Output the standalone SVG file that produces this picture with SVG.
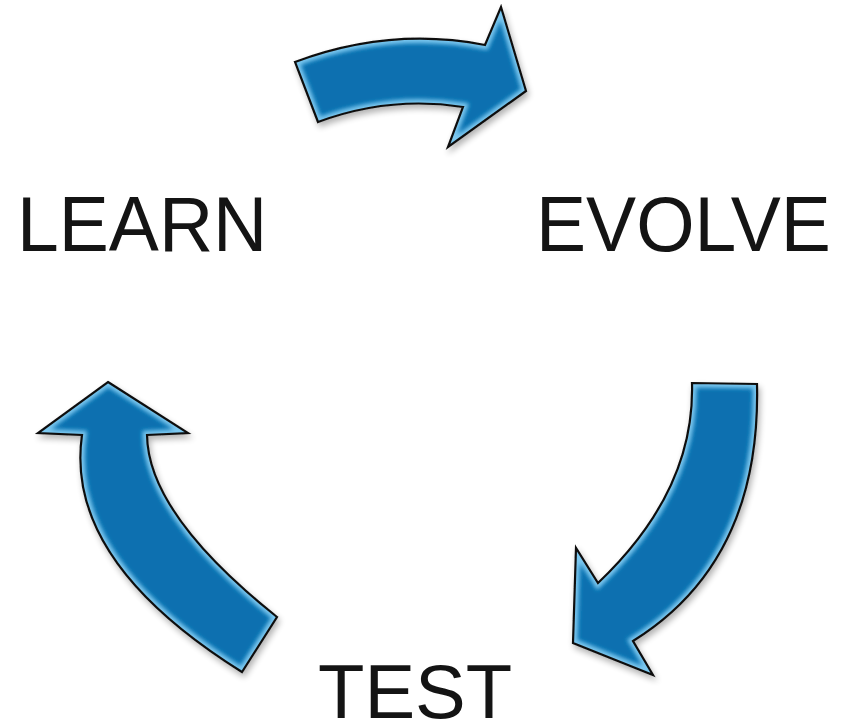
<svg xmlns="http://www.w3.org/2000/svg" width="842" height="724" viewBox="0 0 842 724">
<style>
.lbl{font-family:"Liberation Sans",Arial,sans-serif;font-size:77px;fill:#141414}
.body{fill:#0770b0}
.bevel{fill:none;stroke:#7cc8f0;stroke-width:9;filter:url(#blur)}
.edge{fill:none;stroke:#111;stroke-width:2.2;stroke-linejoin:miter}
</style>
<defs>
<filter id="blur" x="-20%" y="-20%" width="140%" height="140%"><feGaussianBlur stdDeviation="2.2"/></filter>
<filter id="shadow" x="-20%" y="-20%" width="150%" height="150%"><feGaussianBlur in="SourceAlpha" stdDeviation="3"/><feOffset dx="2" dy="4"/><feComponentTransfer><feFuncA type="linear" slope="0.3"/></feComponentTransfer><feMerge><feMergeNode/><feMergeNode in="SourceGraphic"/></feMerge></filter>
<path id="pTop" d="M295,62 Q390,26.5 485,45 L501,7 L526,91 L448,147 L463,107 Q389.5,95.5 318,122 Z"/>
<path id="pRight" d="M692,383 L757,384 Q761,561.5 633,641 L653,675 L573,643 L576,548 L598,583 Q695,491 692,383 Z"/>
<path id="pLeft" d="M108,382 L188,433 L147,435 Q148,514 277,617 L242,672 Q64,560.5 82,435 L38,433 Z"/>
<clipPath id="cTop"><use href="#pTop"/></clipPath>
<clipPath id="cRight"><use href="#pRight"/></clipPath>
<clipPath id="cLeft"><use href="#pLeft"/></clipPath>
</defs>
<g id="connectors">
<g id="arrow-learn-evolve" filter="url(#shadow)">
<use href="#pTop" class="body"/>
<g clip-path="url(#cTop)"><use href="#pTop" class="bevel"/></g>
<use href="#pTop" class="edge"/>
</g>
<g id="arrow-evolve-test" filter="url(#shadow)">
<use href="#pRight" class="body"/>
<g clip-path="url(#cRight)"><use href="#pRight" class="bevel"/></g>
<use href="#pRight" class="edge"/>
</g>
<g id="arrow-test-learn" filter="url(#shadow)">
<use href="#pLeft" class="body"/>
<g clip-path="url(#cLeft)"><use href="#pLeft" class="bevel"/></g>
<use href="#pLeft" class="edge"/>
</g>
</g>
<g id="learn"><text class="lbl" transform="translate(17,251) scale(0.975,1)" x="0" y="0">LEARN</text></g>
<g id="evolve"><text class="lbl" transform="translate(536,251) scale(0.975,1)" x="0" y="0">EVOLVE</text></g>
<g id="test"><text class="lbl" x="318" y="718" style="font-size:76px">TEST</text></g>
</svg>
